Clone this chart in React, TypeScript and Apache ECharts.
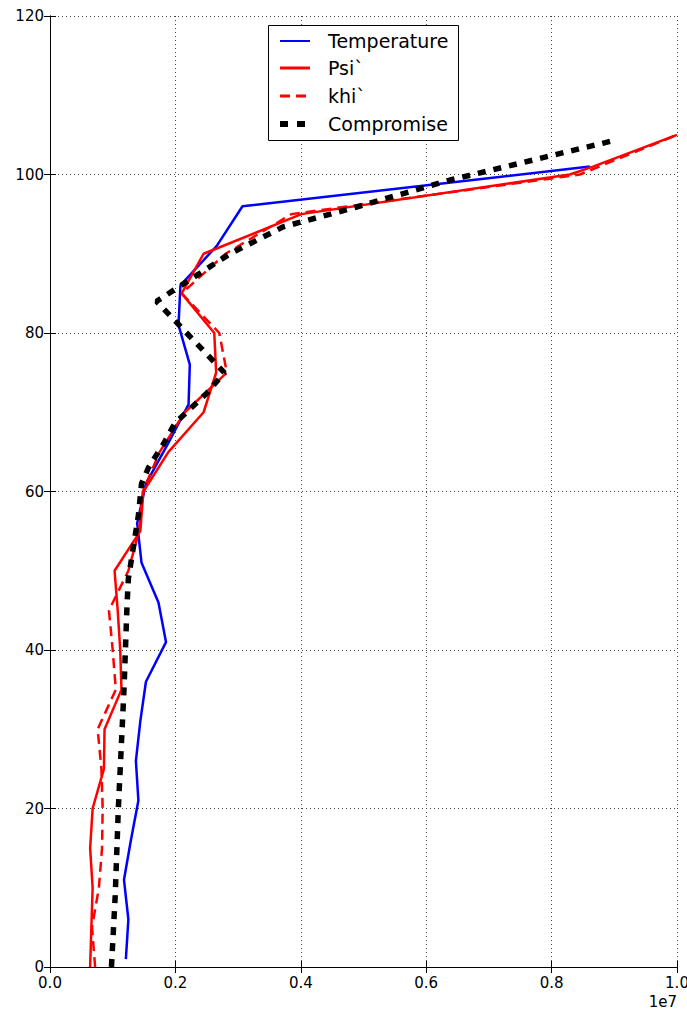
import React, { useEffect, useRef } from "react";
import * as echarts from "echarts";

// x values are in units of 1e7
const tempY = [1, 6, 11, 16, 21, 26, 31, 36, 41, 46, 51, 56, 61, 66, 71, 76, 81, 86, 91, 96, 101];
const tempX = [0.121, 0.125, 0.118, 0.129, 0.141, 0.137, 0.144, 0.153, 0.185, 0.173, 0.146, 0.139, 0.153, 0.188, 0.221, 0.223, 0.205, 0.208, 0.266, 0.307, 0.861];

const psiY = [0, 5, 10, 15, 20, 25, 30, 35, 40, 45, 50, 55, 60, 65, 70, 75, 80, 85, 90, 95, 100, 101, 105];
const psiX = [0.064, 0.066, 0.068, 0.064, 0.068, 0.086, 0.087, 0.114, 0.112, 0.108, 0.103, 0.144, 0.149, 0.189, 0.245, 0.265, 0.262, 0.21, 0.245, 0.401, 0.829, 0.866, 1.0];

const khiY = [0, 5, 10, 15, 20, 25, 30, 35, 40, 45, 50, 55, 60, 65, 70, 75, 80, 85, 90, 95, 100, 101, 105];
const khiX = [0.072, 0.067, 0.078, 0.083, 0.084, 0.082, 0.076, 0.105, 0.1, 0.094, 0.125, 0.142, 0.148, 0.175, 0.215, 0.282, 0.27, 0.21, 0.28, 0.385, 0.845, 0.876, 1.0];

const compY = [0, 9, 20, 35, 46, 49, 57, 61, 63, 66, 68.6, 72.4, 75, 84, 90, 93.4, 95.9, 99.3, 104.3];
const compX = [0.098, 0.104, 0.109, 0.118, 0.123, 0.125, 0.141, 0.146, 0.157, 0.181, 0.199, 0.25, 0.278, 0.17, 0.287, 0.372, 0.489, 0.638, 0.9];

const xTicks = [0, 0.2, 0.4, 0.6, 0.8, 1.0];
const yTicks = [0, 20, 40, 60, 80, 100, 120];
const seriesNames = ["Temperature", "Psi`", "khi`", "Compromise"];

const FONT = "DejaVu Sans";

function pairs(xs: number[], ys: number[]) {
  return xs.map((x, i) => [x, ys[i]]);
}

export default function App() {
  const ref = useRef<HTMLDivElement>(null);
  useEffect(() => {
    if (!ref.current) return;
    const chart = echarts.init(ref.current, null, { renderer: "svg" });
    const axisCommon = {
      type: "value" as const,
      axisLine: { show: true, lineStyle: { color: "#000", width: 1 } },
      axisTick: { show: true, inside: true, length: 6, lineStyle: { color: "#000", width: 1 } },
    };
    const legendRows = [
      { y: 41, color: "#0000ff", width: 2, dash: null as any },
      { y: 68, color: "#ff0000", width: 3, dash: null as any },
      { y: 96, color: "#ff0000", width: 3, dash: [10, 6] },
      { y: 124, color: "#000000", width: 6, dash: [8, 9] },
    ];
    const legendGraphics: any[] = [
      {
        type: "rect",
        shape: { x: 268.5, y: 25.5, width: 190, height: 115 },
        style: { fill: "#fff", stroke: "#000", lineWidth: 1 },
        z: 100,
      },
    ];
    legendRows.forEach((r, i) => {
      legendGraphics.push({
        type: "line",
        shape: { x1: 280, y1: r.y, x2: 310, y2: r.y },
        style: { stroke: r.color, lineWidth: r.width, lineDash: r.dash, lineCap: "butt" },
        z: 101,
      });
      legendGraphics.push({
        type: "text",
        x: 328,
        y: r.y,
        style: {
          text: seriesNames[i],
          fontSize: 19,
          fontFamily: FONT,
          fill: "#000",
          verticalAlign: "middle",
          align: "left",
        },
        z: 101,
      });
    });
    legendGraphics.push({
      type: "text",
      x: 677,
      y: 1002,
      style: { text: "1e7", fontSize: 15, fontFamily: FONT, fill: "#000", align: "right", verticalAlign: "middle" },
    });

    chart.setOption({
      animation: false,
      backgroundColor: "#fff",
      grid: { left: 50, right: 10, top: 16, bottom: 45, containLabel: false, outerBoundsMode: "none" },
      xAxis: [
        {
          ...axisCommon,
          position: "bottom",
          min: xTicks[0],
          max: xTicks[xTicks.length - 1],
          interval: 0.2,
          axisLabel: {
            show: true,
            color: "#000",
            fontSize: 15,
            fontFamily: FONT,
            margin: 8,
            formatter: (v: number) => v.toFixed(1),
          },
          splitLine: { show: true, lineStyle: { color: "#444", width: 1, type: [1, 3] } },
        },
        {
          ...axisCommon,
          position: "top",
          min: xTicks[0],
          max: xTicks[xTicks.length - 1],
          interval: 0.2,
          axisLabel: { show: false },
          splitLine: { show: false },
        },
      ],
      yAxis: [
        {
          ...axisCommon,
          position: "left",
          min: yTicks[0],
          max: yTicks[yTicks.length - 1],
          interval: 20,
          axisLabel: { show: true, color: "#000", fontSize: 15, fontFamily: FONT, margin: 6 },
          splitLine: { show: true, lineStyle: { color: "#444", width: 1, type: [1, 3] } },
        },
        {
          ...axisCommon,
          position: "right",
          min: yTicks[0],
          max: yTicks[yTicks.length - 1],
          interval: 20,
          axisLabel: { show: false },
          splitLine: { show: false },
        },
      ],
      series: [
        {
          name: seriesNames[0],
          type: "line",
          data: pairs(tempX, tempY),
          showSymbol: false,
          symbol: "none",
          lineStyle: { color: "#0000ff", width: 2.5 },
          z: 3,
        },
        {
          name: seriesNames[1],
          type: "line",
          data: pairs(psiX, psiY),
          showSymbol: false,
          symbol: "none",
          lineStyle: { color: "#ff0000", width: 2.5 },
          z: 4,
        },
        {
          name: seriesNames[2],
          type: "line",
          data: pairs(khiX, khiY),
          showSymbol: false,
          symbol: "none",
          lineStyle: { color: "#ff0000", width: 2.5, type: [10, 6] },
          z: 5,
        },
        {
          name: seriesNames[3],
          type: "line",
          data: pairs(compX, compY),
          showSymbol: false,
          symbol: "none",
          lineStyle: { color: "#000000", width: 5.5, type: [8, 8], cap: "butt" },
          z: 6,
        },
      ],
      graphic: legendGraphics,
    });
    return () => chart.dispose();
  }, []);
  return (
    <div
      ref={ref}
      style={{ position: "absolute", left: 0, top: 0, width: 687, height: 1012 }}
    />
  );
}
